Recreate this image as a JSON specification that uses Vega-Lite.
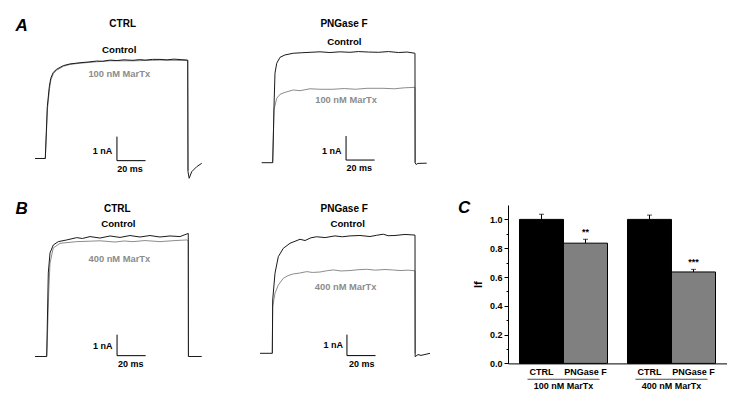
{
"$schema":"https://vega.github.io/schema/vega-lite/v6.json",
"padding":0,"background":"white","bounds":"flush","spacing":0,"columns":3,
"config":{"view":{"stroke":null},"font":"Liberation Sans"},
"datasets":{
"tr":[
{"p":"A1","s":"c","t":-7.2,"i":0},{"p":"A1","s":"c","t":0,"i":0},{"p":"A1","s":"c","t":1.4,"i":2.16},{"p":"A1","s":"c","t":2.8,"i":2.99},{"p":"A1","s":"c","t":3.8,"i":3.34},{"p":"A1","s":"c","t":5.6,"i":3.59},{"p":"A1","s":"c","t":8,"i":3.72},{"p":"A1","s":"c","t":12.6,"i":3.87},{"p":"A1","s":"c","t":17.3,"i":3.94},{"p":"A1","s":"c","t":24.3,"i":3.99},{"p":"A1","s":"c","t":30,"i":4.02},{"p":"A1","s":"c","t":35.9,"i":4.06},{"p":"A1","s":"c","t":40,"i":4.05},{"p":"A1","s":"c","t":45.2,"i":4.1},{"p":"A1","s":"c","t":50,"i":4.08},{"p":"A1","s":"c","t":55,"i":4.11},{"p":"A1","s":"c","t":61.3,"i":4.09},{"p":"A1","s":"c","t":66,"i":4.12},{"p":"A1","s":"c","t":70,"i":4.1},{"p":"A1","s":"c","t":75,"i":4.13},{"p":"A1","s":"c","t":80.2,"i":4.13},{"p":"A1","s":"c","t":85,"i":4.11},{"p":"A1","s":"c","t":90,"i":4.14},{"p":"A1","s":"c","t":95,"i":4.12},{"p":"A1","s":"c","t":99.6,"i":4.1},{"p":"A1","s":"c","t":99.8,"i":-0.55},{"p":"A1","s":"c","t":100.6,"i":-0.825},{"p":"A1","s":"c","t":102.4,"i":-0.55},{"p":"A1","s":"c","t":105.9,"i":-0.34},{"p":"A1","s":"c","t":109.4,"i":-0.2},
{"p":"A1","s":"m","t":-7.2,"i":0},{"p":"A1","s":"m","t":0,"i":0},{"p":"A1","s":"m","t":1.5,"i":2.05},{"p":"A1","s":"m","t":2.9,"i":2.9},{"p":"A1","s":"m","t":3.9,"i":3.27},{"p":"A1","s":"m","t":5.7,"i":3.54},{"p":"A1","s":"m","t":8,"i":3.68},{"p":"A1","s":"m","t":12.6,"i":3.84},{"p":"A1","s":"m","t":17.3,"i":3.92},{"p":"A1","s":"m","t":24.3,"i":3.97},{"p":"A1","s":"m","t":35.9,"i":4.03},{"p":"A1","s":"m","t":45.2,"i":4.07},{"p":"A1","s":"m","t":61.3,"i":4.07},{"p":"A1","s":"m","t":80.2,"i":4.1},{"p":"A1","s":"m","t":99.6,"i":4.08},{"p":"A1","s":"m","t":99.8,"i":-0.5},
{"p":"A2","s":"c","t":-7.7,"i":0},{"p":"A2","s":"c","t":0,"i":0},{"p":"A2","s":"c","t":0.56,"i":1.36},{"p":"A2","s":"c","t":0.91,"i":2.33},{"p":"A2","s":"c","t":1.6,"i":3.73},{"p":"A2","s":"c","t":2.8,"i":4.14},{"p":"A2","s":"c","t":5.1,"i":4.39},{"p":"A2","s":"c","t":8.6,"i":4.49},{"p":"A2","s":"c","t":14.4,"i":4.56},{"p":"A2","s":"c","t":20,"i":4.58},{"p":"A2","s":"c","t":26.1,"i":4.6},{"p":"A2","s":"c","t":33.1,"i":4.62},{"p":"A2","s":"c","t":40,"i":4.59},{"p":"A2","s":"c","t":47,"i":4.62},{"p":"A2","s":"c","t":54,"i":4.6},{"p":"A2","s":"c","t":60,"i":4.63},{"p":"A2","s":"c","t":67,"i":4.61},{"p":"A2","s":"c","t":74,"i":4.6},{"p":"A2","s":"c","t":81,"i":4.63},{"p":"A2","s":"c","t":88,"i":4.59},{"p":"A2","s":"c","t":94,"i":4.61},{"p":"A2","s":"c","t":99.5,"i":4.56},{"p":"A2","s":"c","t":99.6,"i":0},{"p":"A2","s":"c","t":100.3,"i":-0.075},{"p":"A2","s":"c","t":101.5,"i":-0.03},{"p":"A2","s":"c","t":107.7,"i":-0.02},
{"p":"A2","s":"m","t":0,"i":0},{"p":"A2","s":"m","t":0.91,"i":2.2},{"p":"A2","s":"m","t":2.8,"i":2.68},{"p":"A2","s":"m","t":5.1,"i":2.85},{"p":"A2","s":"m","t":8.6,"i":2.93},{"p":"A2","s":"m","t":14.4,"i":3.03},{"p":"A2","s":"m","t":19.1,"i":3.0},{"p":"A2","s":"m","t":26.1,"i":3.08},{"p":"A2","s":"m","t":33,"i":3.06},{"p":"A2","s":"m","t":42.2,"i":3.06},{"p":"A2","s":"m","t":50,"i":3.09},{"p":"A2","s":"m","t":58,"i":3.06},{"p":"A2","s":"m","t":66,"i":3.1},{"p":"A2","s":"m","t":77.1,"i":3.1},{"p":"A2","s":"m","t":85,"i":3.08},{"p":"A2","s":"m","t":92,"i":3.12},{"p":"A2","s":"m","t":99.5,"i":3.14},{"p":"A2","s":"m","t":99.6,"i":0},
{"p":"B1","s":"c","t":-8.2,"i":0},{"p":"B1","s":"c","t":0,"i":0},{"p":"B1","s":"c","t":1.12,"i":3.98},{"p":"B1","s":"c","t":2.31,"i":4.93},{"p":"B1","s":"c","t":4.6,"i":5.31},{"p":"B1","s":"c","t":8.1,"i":5.47},{"p":"B1","s":"c","t":14,"i":5.55},{"p":"B1","s":"c","t":21,"i":5.66},{"p":"B1","s":"c","t":25,"i":5.62},{"p":"B1","s":"c","t":30.3,"i":5.71},{"p":"B1","s":"c","t":37.3,"i":5.64},{"p":"B1","s":"c","t":44.3,"i":5.74},{"p":"B1","s":"c","t":51.3,"i":5.67},{"p":"B1","s":"c","t":58.2,"i":5.76},{"p":"B1","s":"c","t":65.2,"i":5.69},{"p":"B1","s":"c","t":72.2,"i":5.76},{"p":"B1","s":"c","t":79.2,"i":5.69},{"p":"B1","s":"c","t":86.2,"i":5.74},{"p":"B1","s":"c","t":93.2,"i":5.71},{"p":"B1","s":"c","t":99,"i":5.86},{"p":"B1","s":"c","t":99.1,"i":0},{"p":"B1","s":"c","t":108.4,"i":0},
{"p":"B1","s":"m","t":0,"i":0},{"p":"B1","s":"m","t":0.3,"i":0.5},{"p":"B1","s":"m","t":1.47,"i":3.17},{"p":"B1","s":"m","t":2.31,"i":4.45},{"p":"B1","s":"m","t":4.6,"i":5.17},{"p":"B1","s":"m","t":9.3,"i":5.39},{"p":"B1","s":"m","t":21,"i":5.47},{"p":"B1","s":"m","t":30,"i":5.49},{"p":"B1","s":"m","t":37.3,"i":5.51},{"p":"B1","s":"m","t":47.8,"i":5.45},{"p":"B1","s":"m","t":54,"i":5.5},{"p":"B1","s":"m","t":60.3,"i":5.47},{"p":"B1","s":"m","t":68.7,"i":5.52},{"p":"B1","s":"m","t":79.2,"i":5.47},{"p":"B1","s":"m","t":89.7,"i":5.52},{"p":"B1","s":"m","t":97.9,"i":5.55},{"p":"B1","s":"m","t":99,"i":5.52},{"p":"B1","s":"m","t":99.1,"i":0},
{"p":"B2","s":"c","t":-8.6,"i":0},{"p":"B2","s":"c","t":0,"i":0},{"p":"B2","s":"c","t":0.28,"i":2.54},{"p":"B2","s":"c","t":1.89,"i":3.81},{"p":"B2","s":"c","t":4.2,"i":4.6},{"p":"B2","s":"c","t":7.7,"i":5.0},{"p":"B2","s":"c","t":12.4,"i":5.24},{"p":"B2","s":"c","t":19.4,"i":5.43},{"p":"B2","s":"c","t":22.9,"i":5.37},{"p":"B2","s":"c","t":27,"i":5.5},{"p":"B2","s":"c","t":31,"i":5.55},{"p":"B2","s":"c","t":36.9,"i":5.51},{"p":"B2","s":"c","t":43.8,"i":5.59},{"p":"B2","s":"c","t":49,"i":5.55},{"p":"B2","s":"c","t":54.3,"i":5.59},{"p":"B2","s":"c","t":61.3,"i":5.61},{"p":"B2","s":"c","t":68.3,"i":5.56},{"p":"B2","s":"c","t":73,"i":5.62},{"p":"B2","s":"c","t":77.6,"i":5.67},{"p":"B2","s":"c","t":81,"i":5.6},{"p":"B2","s":"c","t":85.8,"i":5.61},{"p":"B2","s":"c","t":92.8,"i":5.66},{"p":"B2","s":"c","t":99.8,"i":5.63},{"p":"B2","s":"c","t":99.9,"i":-0.16},{"p":"B2","s":"c","t":101.9,"i":-0.06},{"p":"B2","s":"c","t":104,"i":-0.1},{"p":"B2","s":"c","t":110.3,"i":0},
{"p":"B2","s":"m","t":0,"i":0},{"p":"B2","s":"m","t":0.28,"i":2.22},{"p":"B2","s":"m","t":1.89,"i":2.86},{"p":"B2","s":"m","t":4.2,"i":3.25},{"p":"B2","s":"m","t":7.7,"i":3.57},{"p":"B2","s":"m","t":11,"i":3.7},{"p":"B2","s":"m","t":14.7,"i":3.78},{"p":"B2","s":"m","t":19,"i":3.82},{"p":"B2","s":"m","t":24.1,"i":3.89},{"p":"B2","s":"m","t":28,"i":3.85},{"p":"B2","s":"m","t":33.4,"i":3.87},{"p":"B2","s":"m","t":38,"i":3.93},{"p":"B2","s":"m","t":42.7,"i":3.97},{"p":"B2","s":"m","t":48,"i":3.92},{"p":"B2","s":"m","t":54.3,"i":3.94},{"p":"B2","s":"m","t":60,"i":3.98},{"p":"B2","s":"m","t":66,"i":4.0},{"p":"B2","s":"m","t":72,"i":3.96},{"p":"B2","s":"m","t":78.8,"i":3.99},{"p":"B2","s":"m","t":84,"i":3.97},{"p":"B2","s":"m","t":89.3,"i":3.94},{"p":"B2","s":"m","t":95,"i":3.96},{"p":"B2","s":"m","t":99.8,"i":3.93},{"p":"B2","s":"m","t":99.9,"i":0}
],
"sb":[
{"p":"A1","t":50.1,"i":-0.09,"t2":50.1,"i2":0.91},{"p":"A1","t":50.1,"i":-0.09,"t2":70.1,"i2":-0.09},
{"p":"A2","t":51.3,"i":0.11,"t2":51.3,"i2":1.11},{"p":"A2","t":51.3,"i":0.11,"t2":71.3,"i2":0.11},
{"p":"B1","t":49.2,"i":0.04,"t2":49.2,"i2":1.04},{"p":"B1","t":49.2,"i":0.04,"t2":69.2,"i2":0.04},
{"p":"B2","t":52.2,"i":-0.11,"t2":52.2,"i2":0.89},{"p":"B2","t":52.2,"i":-0.11,"t2":72.2,"i2":-0.11}
],
"lab":[
{"p":"A1","k":"L","txt":"A","t":-16.5,"i":5.53},
{"p":"A1","k":"head","txt":"CTRL","t":54.1,"i":5.59},
{"p":"A1","k":"ctl","txt":"Control","t":51.7,"i":4.52},
{"p":"A1","k":"mx","txt":"100 nM MarTx","t":51.7,"i":3.52},
{"p":"A1","k":"sb","txt":"1 nA","t":40.0,"i":0.31},
{"p":"A1","k":"sb","txt":"20 ms","t":59.2,"i":-0.44},
{"p":"A2","k":"head","txt":"PNGase F","t":49.9,"i":5.77},
{"p":"A2","k":"ctl","txt":"Control","t":50.1,"i":5.04},
{"p":"A2","k":"mx","txt":"100 nM MarTx","t":51.3,"i":2.61},
{"p":"A2","k":"sb","txt":"1 nA","t":41.3,"i":0.5},
{"p":"A2","k":"sb","txt":"20 ms","t":60.6,"i":-0.23},
{"p":"B1","k":"L","txt":"B","t":-17.5,"i":7.02},
{"p":"B1","k":"head","txt":"CTRL","t":49.4,"i":7.01},
{"p":"B1","k":"ctl","txt":"Control","t":50.1,"i":6.30},
{"p":"B1","k":"mx","txt":"400 nM MarTx","t":50.8,"i":4.63},
{"p":"B1","k":"sb","txt":"1 nA","t":39.2,"i":0.51},
{"p":"B1","k":"sb","txt":"20 ms","t":58.7,"i":-0.37},
{"p":"B2","k":"head","txt":"PNGase F","t":50.3,"i":6.86},
{"p":"B2","k":"ctl","txt":"Control","t":52.7,"i":6.14},
{"p":"B2","k":"mx","txt":"400 nM MarTx","t":51.3,"i":3.17},
{"p":"B2","k":"sb","txt":"1 nA","t":42.7,"i":0.40},
{"p":"B2","k":"sb","txt":"20 ms","t":62.5,"i":-0.51}
],
"bars":[
{"g":"100 nM MarTx","c":"CTRL","v":1.0,"hi":1.035,"sig":""},
{"g":"100 nM MarTx","c":"PNGase F","v":0.835,"hi":0.862,"sig":"**"},
{"g":"400 nM MarTx","c":"CTRL","v":1.0,"hi":1.03,"sig":""},
{"g":"400 nM MarTx","c":"PNGase F","v":0.635,"hi":0.653,"sig":"***"}
]
},
"concat":[
{"width":232,"height":205,
"encoding":{"x":{"field":"t","type":"quantitative","scale":{"domain":[-31.68,130.56],"nice":false,"zero":false},"axis":null},"y":{"field":"i","type":"quantitative","scale":{"domain":[-1.9375,6.604],"nice":false,"zero":false},"axis":null}},
"layer":[
{"data":{"name":"tr"},"transform":[{"filter":"datum.p=='A1' && datum.s=='m'"}],"mark":{"type":"line","stroke":"#8c8c8c","strokeWidth":1},"encoding":{}},
{"data":{"name":"tr"},"transform":[{"filter":"datum.p=='A1' && datum.s=='c'"}],"mark":{"type":"line","stroke":"#1a1a1a","strokeWidth":1},"encoding":{}},
{"data":{"name":"sb"},"transform":[{"filter":"datum.p=='A1'"}],"mark":{"type":"rule","stroke":"#000","strokeWidth":1},"encoding":{"x2":{"field":"t2"},"y2":{"field":"i2"}}},
{"data":{"name":"lab"},"transform":[{"filter":"datum.p=='A1' && datum.k!='L'"}],"mark":{"type":"text","fontWeight":"bold","baseline":"middle","font":"Liberation Sans"},"encoding":{"text":{"field":"txt"},"size":{"field":"k","type":"nominal","scale":{"domain":["head","ctl","mx","sb"],"range":[10,9,9,9]},"legend":null},"color":{"field":"k","type":"nominal","scale":{"domain":["head","ctl","mx","sb"],"range":["#000000","#000000","#8c8c8c","#000000"]},"legend":null}}},
{"data":{"name":"lab"},"transform":[{"filter":"datum.p=='A1' && datum.k=='L'"}],"mark":{"type":"text","fontWeight":"bold","fontStyle":"italic","fontSize":17,"baseline":"middle","font":"Liberation Sans","color":"#000"},"encoding":{"text":{"field":"txt"}}}
]},
{"width":276,"height":205,
"encoding":{"x":{"field":"t","type":"quantitative","scale":{"domain":[-28.46,164.55],"nice":false,"zero":false},"axis":null},"y":{"field":"i","type":"quantitative","scale":{"domain":[-1.7625,6.779],"nice":false,"zero":false},"axis":null}},
"layer":[
{"data":{"name":"tr"},"transform":[{"filter":"datum.p=='A2' && datum.s=='m'"}],"mark":{"type":"line","stroke":"#8c8c8c","strokeWidth":1},"encoding":{}},
{"data":{"name":"tr"},"transform":[{"filter":"datum.p=='A2' && datum.s=='c'"}],"mark":{"type":"line","stroke":"#1a1a1a","strokeWidth":1},"encoding":{}},
{"data":{"name":"sb"},"transform":[{"filter":"datum.p=='A2'"}],"mark":{"type":"rule","stroke":"#000","strokeWidth":1},"encoding":{"x2":{"field":"t2"},"y2":{"field":"i2"}}},
{"data":{"name":"lab"},"transform":[{"filter":"datum.p=='A2' && datum.k!='L'"}],"mark":{"type":"text","fontWeight":"bold","baseline":"middle","font":"Liberation Sans"},"encoding":{"text":{"field":"txt"},"size":{"field":"k","type":"nominal","scale":{"domain":["head","ctl","mx","sb"],"range":[10,9,9,9]},"legend":null},"color":{"field":"k","type":"nominal","scale":{"domain":["head","ctl","mx","sb"],"range":["#000000","#000000","#8c8c8c","#000000"]},"legend":null}}}
]},
{"width":219,"height":205,"data":{"name":"bars"},"transform":[{"filter":"false"}],"mark":{"type":"point","opacity":0},"encoding":{}},
{"width":232,"height":158.4,
"encoding":{"x":{"field":"t","type":"quantitative","scale":{"domain":[-32.66,129.58],"nice":false,"zero":false},"axis":null},"y":{"field":"i","type":"quantitative","scale":{"domain":[-0.3286,7.214],"nice":false,"zero":false},"axis":null}},
"layer":[
{"data":{"name":"tr"},"transform":[{"filter":"datum.p=='B1' && datum.s=='m'"}],"mark":{"type":"line","stroke":"#8c8c8c","strokeWidth":1},"encoding":{}},
{"data":{"name":"tr"},"transform":[{"filter":"datum.p=='B1' && datum.s=='c'"}],"mark":{"type":"line","stroke":"#1a1a1a","strokeWidth":1},"encoding":{}},
{"data":{"name":"sb"},"transform":[{"filter":"datum.p=='B1'"}],"mark":{"type":"rule","stroke":"#000","strokeWidth":1},"encoding":{"x2":{"field":"t2"},"y2":{"field":"i2"}}},
{"data":{"name":"lab"},"transform":[{"filter":"datum.p=='B1' && datum.k!='L'"}],"mark":{"type":"text","fontWeight":"bold","baseline":"middle","font":"Liberation Sans"},"encoding":{"text":{"field":"txt"},"size":{"field":"k","type":"nominal","scale":{"domain":["head","ctl","mx","sb"],"range":[10,9,9,9]},"legend":null},"color":{"field":"k","type":"nominal","scale":{"domain":["head","ctl","mx","sb"],"range":["#000000","#000000","#8c8c8c","#000000"]},"legend":null}}},
{"data":{"name":"lab"},"transform":[{"filter":"datum.p=='B1' && datum.k=='L'"}],"mark":{"type":"text","fontWeight":"bold","fontStyle":"italic","fontSize":17,"baseline":"middle","font":"Liberation Sans","color":"#000"},"encoding":{"text":{"field":"txt"}}}
]},
{"width":276,"height":158.4,
"encoding":{"x":{"field":"t","type":"quantitative","scale":{"domain":[-28.18,164.83],"nice":false,"zero":false},"axis":null},"y":{"field":"i","type":"quantitative","scale":{"domain":[-0.481,7.062],"nice":false,"zero":false},"axis":null}},
"layer":[
{"data":{"name":"tr"},"transform":[{"filter":"datum.p=='B2' && datum.s=='m'"}],"mark":{"type":"line","stroke":"#8c8c8c","strokeWidth":1},"encoding":{}},
{"data":{"name":"tr"},"transform":[{"filter":"datum.p=='B2' && datum.s=='c'"}],"mark":{"type":"line","stroke":"#1a1a1a","strokeWidth":1},"encoding":{}},
{"data":{"name":"sb"},"transform":[{"filter":"datum.p=='B2'"}],"mark":{"type":"rule","stroke":"#000","strokeWidth":1},"encoding":{"x2":{"field":"t2"},"y2":{"field":"i2"}}},
{"data":{"name":"lab"},"transform":[{"filter":"datum.p=='B2' && datum.k!='L'"}],"mark":{"type":"text","fontWeight":"bold","baseline":"middle","font":"Liberation Sans"},"encoding":{"text":{"field":"txt"},"size":{"field":"k","type":"nominal","scale":{"domain":["head","ctl","mx","sb"],"range":[10,9,9,9]},"legend":null},"color":{"field":"k","type":"nominal","scale":{"domain":["head","ctl","mx","sb"],"range":["#000000","#000000","#8c8c8c","#000000"]},"legend":null}}}
]},
{"width":219,"height":158.4,
"title":{"text":"C","anchor":"start","frame":"group","orient":"top","offset":0,"baseline":"middle","dx":-50,"dy":22,"fontSize":17,"fontStyle":"italic","fontWeight":"bold","font":"Liberation Sans","color":"#000"},
"data":{"name":"bars"},
"encoding":{
"x":{"field":"g","type":"nominal","sort":["100 nM MarTx","400 nM MarTx"],"scale":{"paddingInner":0.185,"paddingOuter":0.1064},"axis":{"title":null,"ticks":false,"tickSize":0,"labelPadding":18,"labelAngle":0,"labelFontSize":9,"labelFontWeight":"bold","labelFont":"Liberation Sans","labelColor":"#000","domainColor":"#000","domainWidth":1}},
"y":{"field":"v","type":"quantitative","scale":{"domain":[0,1.1],"nice":false},"axis":{"title":"If","titleFontSize":11,"titleFontWeight":"bold","titleFont":"Liberation Sans","titleColor":"#000","titlePadding":6,"values":[0,0.1,0.2,0.3,0.4,0.5,0.6,0.7,0.8,0.9,1.0],"labelExpr":"round(datum.value*10)%2==0 ? format(datum.value,'.1f') : ''","tickSize":{"condition":{"test":"round(datum.value*10)%2==0","value":4},"value":2},"labelFontSize":9,"labelFontWeight":"bold","labelFont":"Liberation Sans","labelColor":"#000","labelPadding":2,"tickColor":"#000","domainColor":"#000","grid":false}}
},
"layer":[
{"transform":[{"filter":"datum.c=='CTRL'"}],"mark":{"type":"bar","fill":"#000000","stroke":"#000","strokeWidth":1},"encoding":{"xOffset":{"field":"c","type":"nominal","sort":["CTRL","PNGase F"],"scale":{"domain":["CTRL","PNGase F"],"paddingInner":0,"paddingOuter":0}}}},
{"transform":[{"filter":"datum.c=='PNGase F'"}],"mark":{"type":"bar","fill":"#808080","stroke":"#000","strokeWidth":1},"encoding":{"xOffset":{"field":"c","type":"nominal","sort":["CTRL","PNGase F"]}}},
{"mark":{"type":"rule","color":"#000","strokeWidth":1},"encoding":{"xOffset":{"field":"c","type":"nominal","sort":["CTRL","PNGase F"]},"y2":{"field":"hi"}}},
{"mark":{"type":"tick","color":"#000","thickness":1,"size":5},"encoding":{"xOffset":{"field":"c","type":"nominal","sort":["CTRL","PNGase F"]},"y":{"field":"hi","type":"quantitative"}}},
{"mark":{"type":"text","baseline":"middle","dy":-7,"fontSize":9,"fontWeight":"bold","font":"Liberation Sans","color":"#000"},"encoding":{"xOffset":{"field":"c","type":"nominal","sort":["CTRL","PNGase F"]},"y":{"field":"hi","type":"quantitative"},"text":{"field":"sig"}}},
{"mark":{"type":"text","baseline":"middle","dy":8.5,"fontSize":9,"fontWeight":"bold","font":"Liberation Sans","color":"#000"},"encoding":{"xOffset":{"field":"c","type":"nominal","sort":["CTRL","PNGase F"]},"y":{"datum":0},"text":{"field":"c"}}},
{"transform":[{"filter":"datum.c=='CTRL'"}],"mark":{"type":"tick","color":"#000","thickness":1,"size":72},"encoding":{"y":{"datum":-0.11}}}
]}
]
}
